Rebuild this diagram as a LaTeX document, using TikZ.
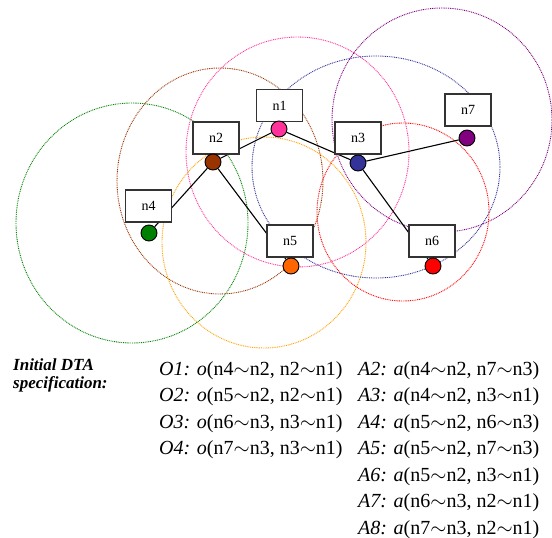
\documentclass[tikz,border=0pt]{standalone}
\usepackage{fontspec}
\setmainfont{LiberationSerif}[Extension=.ttf, UprightFont=*-Regular, BoldFont=*-Bold, ItalicFont=*-Italic, BoldItalicFont=*-BoldItalic]
\pgfdeclarelayer{bg}
\pgfsetlayers{bg,main}
\definecolor{cpink}{RGB}{255,51,153}
\definecolor{cbrown}{RGB}{153,51,0}
\definecolor{cblue}{RGB}{51,51,153}
\definecolor{cgreen}{RGB}{0,128,0}
\definecolor{corange}{RGB}{255,102,0}
\definecolor{corangeline}{RGB}{255,160,0}
\definecolor{cred}{RGB}{255,0,0}
\definecolor{cpurple}{RGB}{128,0,128}
\begin{document}
\begin{tikzpicture}[x=1pt,y=-1pt]
\tikzset{
  rangeline/.style={draw=#1, line width=0.9pt, dash pattern=on 0.9pt off 0.9pt},
  lblbox/.style={draw=black!80, line width=1.2pt, fill=white, minimum width=46pt,
    minimum height=32pt, inner sep=0pt, font=\fontsize{14}{14}\selectfont},
  dotnode/.style={circle, draw=black, line width=0.9pt, fill=#1, minimum size=16pt, inner sep=0pt},
  link/.style={draw=black, line width=1.1pt},
  spectxt/.style={anchor=base west, inner sep=0pt, font=\fontsize{17}{18}\selectfont\bfseries\itshape},
  rowtxt/.style={anchor=base west, inner sep=0pt, font=\fontsize{20}{20}\selectfont},
}
\useasboundingbox (0,0) rectangle (552,538);
% label boxes
\node[lblbox] (n1) at (279.5,105.5) {n1};
\node[lblbox] (n2) at (216,138) {n2};
\node[lblbox] (n3) at (358,138) {n3};
\node[lblbox] (n4) at (148.5,206) {n4};
\node[lblbox] (n5) at (290,241) {n5};
\node[lblbox] (n6) at (432,241) {n6};
\node[lblbox] (n7) at (468,110) {n7};
% dots
\node[dotnode=cpink] (d1) at (279,129) {};
\node[dotnode=cbrown] (d2) at (213,162) {};
\node[dotnode=cblue] (d3) at (358,163) {};
\node[dotnode=cgreen] (d4) at (149,233) {};
\node[dotnode=corange] (d5) at (291,266) {};
\node[dotnode=cred] (d6) at (433,266) {};
\node[dotnode=cpurple] (d7) at (467,138) {};
\begin{pgfonlayer}{bg}
  \draw[rangeline=cgreen] (132,223) ellipse [x radius=116pt, y radius=120pt];
  \draw[rangeline=cbrown] (220,181) ellipse [x radius=103pt, y radius=113pt];
  \draw[rangeline=cpink] (297.5,152) ellipse [x radius=111.5pt, y radius=115pt];
  \draw[rangeline=corangeline] (264,242.5) ellipse [x radius=102pt, y radius=105.5pt];
  \draw[rangeline=cblue] (376,167) ellipse [x radius=124pt, y radius=111pt];
  \draw[rangeline=cpurple] (442,120) ellipse [x radius=110pt, y radius=112pt];
  \draw[rangeline=cred] (403,212) ellipse [x radius=86pt, y radius=89pt];
  \draw[link] (d4) -- (d2);
  \draw[link] (d2) -- (d1);
  \draw[link] (d2) -- (d5);
  \draw[link] (d1) -- (d3);
  \draw[link] (d3) -- (d7);
  \draw[link] (d3) -- (d6);
\end{pgfonlayer}
% text
\node[spectxt] (s1) at (13,370) {Initial DTA};
\node[spectxt] (s2) at (13,388) {specification:};
\node[rowtxt] (o1) at (159,375) {\textit{O1:} \textit{o}(n4$\sim$n2, n2$\sim$n1)};
\node[rowtxt] (o2) at (159,401.5) {\textit{O2:} \textit{o}(n5$\sim$n2, n2$\sim$n1)};
\node[rowtxt] (o3) at (159,428) {\textit{O3:} \textit{o}(n6$\sim$n3, n3$\sim$n1)};
\node[rowtxt] (o4) at (159,454.5) {\textit{O4:} \textit{o}(n7$\sim$n3, n3$\sim$n1)};
\node[rowtxt] (a2) at (358,375) {\textit{A2:} \textit{a}(n4$\sim$n2, n7$\sim$n3)};
\node[rowtxt] (a3) at (358,401.5) {\textit{A3:} \textit{a}(n4$\sim$n2, n3$\sim$n1)};
\node[rowtxt] (a4) at (358,428) {\textit{A4:} \textit{a}(n5$\sim$n2, n6$\sim$n3)};
\node[rowtxt] (a5) at (358,454.5) {\textit{A5:} \textit{a}(n5$\sim$n2, n7$\sim$n3)};
\node[rowtxt] (a6) at (358,481) {\textit{A6:} \textit{a}(n5$\sim$n2, n3$\sim$n1)};
\node[rowtxt] (a7) at (358,507.5) {\textit{A7:} \textit{a}(n6$\sim$n3, n2$\sim$n1)};
\node[rowtxt] (a8) at (358,534) {\textit{A8:} \textit{a}(n7$\sim$n3, n2$\sim$n1)};
\end{tikzpicture}
\end{document}
